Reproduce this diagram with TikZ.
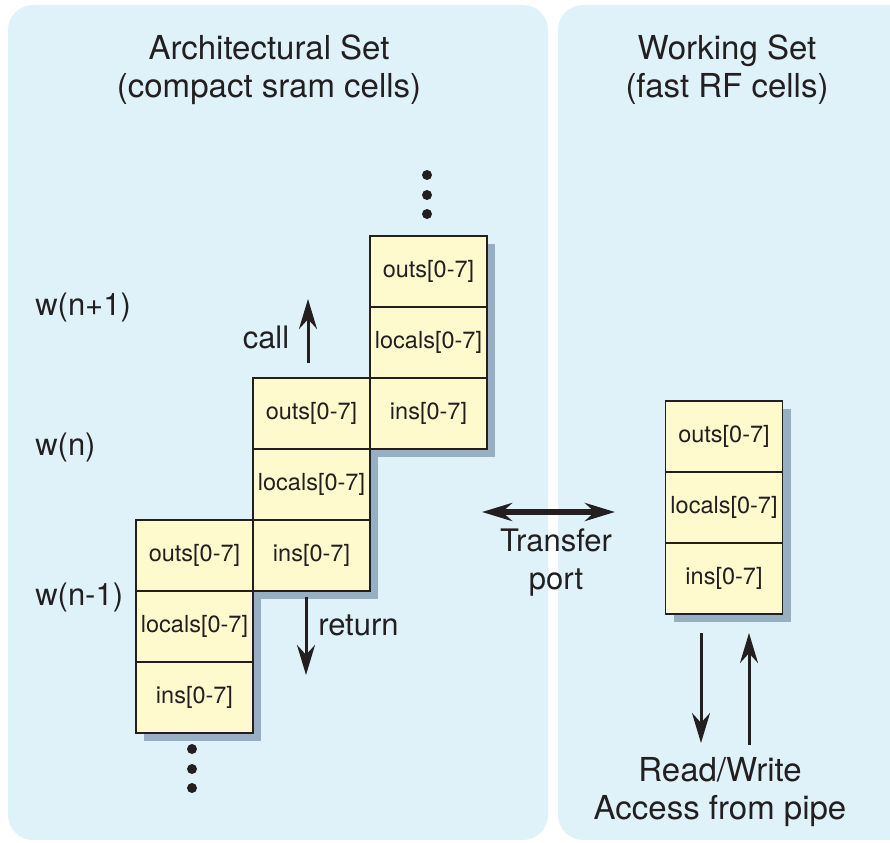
\documentclass[tikz,border=0pt]{standalone}
\usepackage{fontspec}
\setmainfont{TeX Gyre Heros}
\usetikzlibrary{arrows.meta,positioning,shadows}

\begin{document}
\begin{tikzpicture}[x=1pt, y=1pt, >={Stealth[length=30pt,width=18pt]}, semithick]
%====Colours===============================================================
	\definecolor{panelblue}{RGB}{223,242,250}
	\definecolor{cellyellow}{RGB}{255,250,205}
	\definecolor{shadowgray}{RGB}{150,175,195}
	\definecolor{inkdark}{RGB}{35,31,32}
%====Styles===============================================================
	\tikzstyle{panel}=[fill=panelblue, rounded corners=25pt]
	\tikzstyle{cell}=[rectangle, draw=inkdark, line width=1.2pt, fill=cellyellow, minimum width=117pt, minimum height=71pt, inner sep=0pt, outer sep=0pt, text=inkdark, font=\fontsize{23.5}{28}\selectfont, drop shadow={shadow xshift=8pt, shadow yshift=-8pt, fill=shadowgray, opacity=1}]
	\tikzstyle{bigtext}=[text=inkdark, font=\fontsize{31}{38}\selectfont, align=center, inner sep=0pt]
	\tikzstyle{headtext}=[bigtext, font=\fontsize{33}{38}\selectfont]
	\tikzstyle{flow}=[->, draw=inkdark, line width=3pt]
	\tikzstyle{dot}=[fill=inkdark]
%====Page and panels===============================================================
	\clip (0,0) rectangle (890,-842);
	\path[panel] (8,-5) rectangle (548,-840);
	\path[panel] (558,-5) rectangle (920,-840);
	\node[headtext] (archT) at (269,-70) {Architectural Set\\(compact sram cells)};
	\node[headtext] (workT) at (727,-70) {Working Set\\(fast RF cells)};
%====Register windows===============================================================
	\node[cell]	(O1) at (194.5,-555.5)	{outs[0-7]};
	\node[cell]	(L1) [below=0pt of O1]	{locals[0-7]};
	\node[cell]	(I1) [below=0pt of L1]	{ins[0-7]};
	\node[cell]	(O2) at (311.5,-413.5)	{outs[0-7]};
	\node[cell]	(L2) [below=0pt of O2]	{locals[0-7]};
	\node[cell]	(I2) [below=0pt of L2]	{ins[0-7]};
	\node[cell]	(O3) at (428.5,-271.5)	{outs[0-7]};
	\node[cell]	(L3) [below=0pt of O3]	{locals[0-7]};
	\node[cell]	(I3) [below=0pt of L3]	{ins[0-7]};
	\node[cell]	(OW) at (724,-436.5)	{outs[0-7]};
	\node[cell]	(LW) [below=0pt of OW]	{locals[0-7]};
	\node[cell]	(IW) [below=0pt of LW]	{ins[0-7]};
	\foreach \y in {175,195,214}
		\fill[dot] (427,-\y) circle (5pt);
	\foreach \y in {749,769,788}
		\fill[dot] (192,-\y) circle (5pt);
%====Window names===============================================================
	\node[bigtext, anchor=base west]	(wA) at (35,-315)	{w(n+1)};
	\node[bigtext, anchor=base west]	(wB) at (35,-455)	{w(n)};
	\node[bigtext, anchor=base west]	(wC) at (35,-605)	{w(n-1)};
%====Arrows and their texts===============================================================
	\coordinate (callS) at (308,-363);
	\coordinate (callE) at (308,-299);
	\coordinate (retS) at (306,-597);
	\coordinate (retE) at (306,-675);
	\coordinate (trL) at (482,-512);
	\coordinate (trR) at (615,-512);
	\coordinate (rdS) at (701,-633);
	\coordinate (rdE) at (701,-743);
	\coordinate (wrS) at (749,-745);
	\coordinate (wrE) at (749,-633);
	\draw[flow]	(callS) -- (callE);
	\draw[flow]	(retS) -- (retE);
	\draw[flow, <->, line width=6pt]	(trL) -- (trR);
	\draw[flow]	(rdS) -- (rdE);
	\draw[flow]	(wrS) -- (wrE);
	\node[bigtext, anchor=base]	(callT) at (266,-348)	{call};
	\node[bigtext, anchor=base west]	(retT) at (318,-635)	{return};
	\node[bigtext]	(trT) at (556,-563)	{Transfer\\port};
	\node[headtext]	(rwT) at (720,-792)	{Read/Write\\Access from pipe};
\end{tikzpicture}
\end{document}
